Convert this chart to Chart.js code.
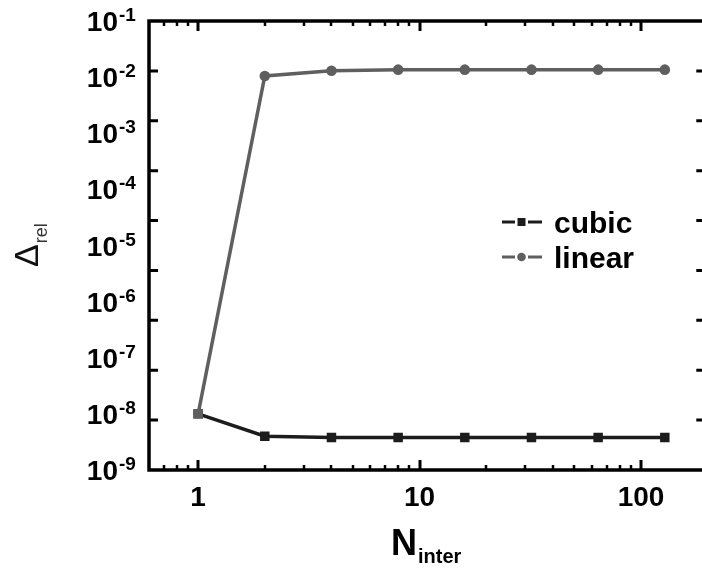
<!DOCTYPE html>
<html><head><meta charset="utf-8">
<script src="https://cdn.jsdelivr.net/npm/chart.js@4.4.1/dist/chart.umd.min.js"></script>
<style>
html,body{margin:0;padding:0;overflow:hidden;background:#fff;width:702px;height:572px}
#wrap{position:relative;width:712px;height:572px}
</style></head>
<body><div id="wrap"><canvas id="c" width="712" height="572"></canvas></div>
<script>
// ---- data ----
const nInter = [1, 2, 4, 8, 16, 32, 64, 128];
const cubicValues  = [1.0e-8, 4.0e-9, 3.8e-9, 3.8e-9, 3.8e-9, 3.8e-9, 3.8e-9, 3.8e-9];
const linearValues = [1.0e-8, 1.05e-2, 1.30e-2, 1.36e-2, 1.36e-2, 1.36e-2, 1.36e-2, 1.36e-2];
const seriesNames = ['cubic', 'linear'];
const xTickValues = [1, 10, 100];
const xMinorTickValues = [0.7, 0.8, 0.9, 2, 3, 4, 5, 6, 7, 8, 9, 20, 30, 40, 50, 60, 70, 80, 90];
const yTickExponents = [-1, -2, -3, -4, -5, -6, -7, -8, -9];
const xTitle = ['N', 'inter'];
const yTitle = ['\u0394', 'rel'];

const FONT = '"Liberation Sans", Arial, Helvetica, sans-serif';
const CUBIC = '#1c1c1c', LINEAR = '#5f5f5f';

const decor = {
  id: 'decor',
  afterDatasetsDraw(chart) {
    const {ctx, chartArea: a, scales: {x, y}} = chart;
    ctx.save();
    ctx.strokeStyle = '#000';
    ctx.lineCap = 'butt';
    // frame
    ctx.lineWidth = 3.5;
    ctx.beginPath();
    ctx.moveTo(a.right, a.top); ctx.lineTo(a.left, a.top);
    ctx.lineTo(a.left, a.bottom); ctx.lineTo(a.right, a.bottom);
    ctx.lineTo(a.right, a.top);
    ctx.stroke();
    // x tick marks (inward, bottom and top)
    const xt = (px, len) => {
      ctx.beginPath();
      ctx.moveTo(px, a.bottom); ctx.lineTo(px, a.bottom - len);
      ctx.moveTo(px, a.top); ctx.lineTo(px, a.top + len);
      ctx.stroke();
    };
    ctx.lineWidth = 3;
    xTickValues.forEach(v => xt(Math.round(x.getPixelForValue(v)), 10));
    ctx.lineWidth = 2.5;
    xMinorTickValues.forEach(v => xt(Math.round(x.getPixelForValue(v)), 5));
    // y tick marks (nine equal divisions of the axis, as in the reference)
    ctx.lineWidth = 3;
    for (let k = 1; k < 9; k++) {
      const py = a.top + k * (a.bottom - a.top) / 9;
      ctx.beginPath();
      ctx.moveTo(a.left, py); ctx.lineTo(a.left + 9, py);
      ctx.moveTo(a.right, py); ctx.lineTo(a.right - 9, py);
      ctx.stroke();
    }
    // y tick labels 10^e
    ctx.fillStyle = '#000';
    ctx.textBaseline = 'alphabetic';
    yTickExponents.forEach(e => {
      const py = y.getPixelForValue(Math.pow(10, e));
      ctx.font = 'bold 28px ' + FONT;
      ctx.textAlign = 'right';
      ctx.fillText('10', 118, py + 10);
      ctx.font = 'bold 19px ' + FONT;
      ctx.textAlign = 'left';
      ctx.fillText(String(e), 119, py);
    });
    // x title N_inter
    ctx.textAlign = 'left';
    ctx.font = 'bold 36px ' + FONT;
    ctx.fillText(xTitle[0], 391, 555);
    const nw = ctx.measureText(xTitle[0]).width;
    ctx.font = 'bold 20px ' + FONT;
    ctx.fillText(xTitle[1], 391 + nw + 1, 563);
    // y title Delta_rel (rotated)
    ctx.save();
    ctx.translate(38, 267);
    ctx.rotate(-Math.PI / 2);
    ctx.fillStyle = '#111';
    ctx.font = '34px ' + FONT;
    ctx.fillText(yTitle[0], 0, 0);
    const dw = ctx.measureText(yTitle[0]).width;
    ctx.fillStyle = '#333';
    ctx.font = '18px ' + FONT;
    ctx.fillText(yTitle[1], dw + 1, 9);
    ctx.restore();
    // legend
    const rows = [222, 257];
    chart.data.datasets.slice().sort((p, q) => seriesNames.indexOf(p.label) - seriesNames.indexOf(q.label))
      .forEach((ds, i) => {
        const ly = rows[i];
        const col = ds.borderColor;
        ctx.strokeStyle = col; ctx.fillStyle = col; ctx.lineWidth = 3;
        ctx.beginPath();
        ctx.moveTo(502, ly); ctx.lineTo(515, ly);
        ctx.moveTo(528, ly); ctx.lineTo(542, ly);
        ctx.stroke();
        ctx.beginPath();
        if (ds.label === 'cubic') ctx.rect(517.5, ly - 4, 8, 8);
        else ctx.arc(521.5, ly, 4.3, 0, Math.PI * 2);
        ctx.fill();
        ctx.fillStyle = '#000';
        ctx.font = 'bold 30px ' + FONT;
        ctx.textAlign = 'left';
        ctx.fillText(ds.label, 554, ly + 11);
      });
    ctx.restore();
  }
};

new Chart(document.getElementById('c'), {
  type: 'line',
  data: {
    datasets: [
      {
        label: seriesNames[0],
        data: nInter.map((n, i) => ({x: n, y: cubicValues[i]})),
        borderColor: CUBIC, backgroundColor: CUBIC, borderWidth: 3.5,
        pointStyle: 'rect', pointRadius: 6.7, pointBorderWidth: 0,
        tension: 0, order: 1
      },
      {
        label: seriesNames[1],
        data: nInter.map((n, i) => ({x: n, y: linearValues[i]})),
        borderColor: LINEAR, backgroundColor: LINEAR, borderWidth: 3.5,
        pointStyle: c => c.dataIndex === 0 ? 'rect' : 'circle',
        pointRadius: c => c.dataIndex === 0 ? 6.7 : 5.3,
        pointBorderWidth: 0,
        tension: 0, order: 0
      }
    ]
  },
  options: {
    responsive: false,
    animation: false,
    events: [],
    layout: {padding: {top: 21, right: 6, left: 0, bottom: 0}},
    plugins: {legend: {display: false}, tooltip: {enabled: false}},
    scales: {
      x: {
        type: 'logarithmic', min: 0.6, max: 195, position: 'bottom',
        grid: {display: false, drawTicks: false}, border: {display: false},
        afterBuildTicks: s => { s.ticks = xTickValues.map(v => ({value: v})); },
        ticks: {
          autoSkip: false, maxRotation: 0, padding: 11, color: '#000',
          font: {family: FONT, size: 28, weight: 'bold', lineHeight: 1.2},
          callback: v => String(v)
        },
        afterFit: s => { s.height = 102; }
      },
      y: {
        type: 'logarithmic', min: 1e-9, max: 1e-1,
        grid: {display: false, drawTicks: false}, border: {display: false},
        ticks: {display: false},
        afterFit: s => { s.width = 149; }
      }
    }
  },
  plugins: [decor]
});
</script>
</body></html>
